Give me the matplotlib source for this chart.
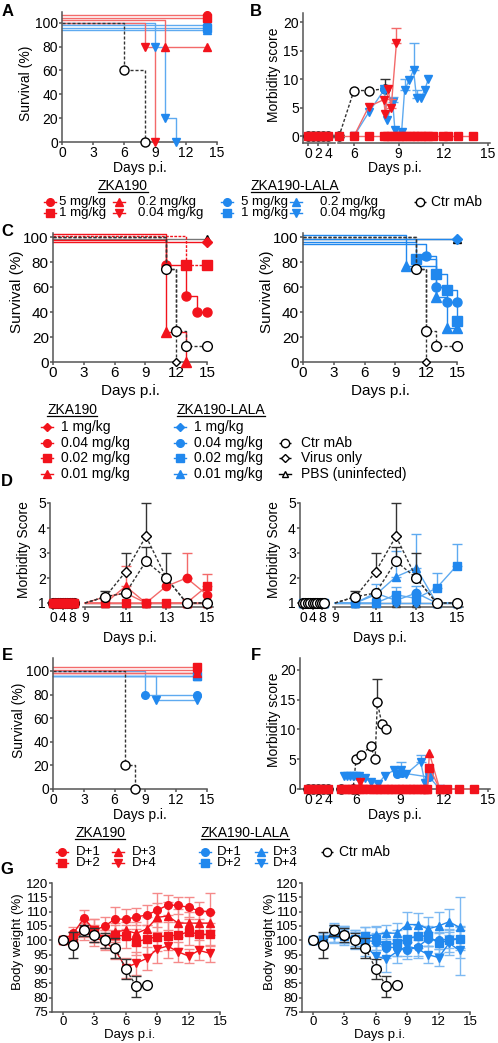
import matplotlib
matplotlib.use('Agg')
import matplotlib.pyplot as plt
import numpy as np

plt.rcParams['font.family'] = ['Liberation Sans', 'DejaVu Sans']

# ---------------- data ----------------
# A: survival (%), ZKA190 (red) and ZKA190-LALA (blue): 5, 1, 0.2, 0.04 mg/kg
a_red_days = [[0, 14], [0, 14], [0, 10, 14], [0, 8, 9]]
a_red_surv = [[100, 100], [100, 100], [100, 80, 80], [100, 80, 0]]
a_blue_days = [[0, 14], [0, 14], [0, 14], [0, 9, 10, 11]]
a_blue_surv = [[100, 100], [100, 100], [100, 100], [100, 80, 20, 0]]
a_ctr_days = [0, 6, 8]
a_ctr_surv = [100, 60, 0]

# B: morbidity score
b_sq_days = [0, 1, 2, 3, 4, 5, 6, 7, 8, 8.25, 8.5, 8.75, 9, 9.25, 9.5, 9.75,
             10, 10.25, 10.5, 10.75, 11, 11.3, 12, 12.3, 13, 14]
b_sq_vals = [0, 0, 0, 0, 0, 0, 0, 0, 0, 0, 0, 0, 0, 0, 0, 0,
             0, 0, 0, 0, 0, 0, 0, 0, 0, 0]
b_ctr_days = [0, 1, 2, 3, 4, 5, 6, 7, 8.1]
b_ctr_vals = [0, 0, 0, 0, 0, 0, 8, 8, 8.3]
b_ctr_err = [0, 0, 0, 0, 0, 0, 0, 0, 1.7]
b_r004_days = [6, 7, 8, 8.1, 8.3, 8.5, 8.85]
b_r004_vals = [0, 5.2, 6.4, 3.9, 8.2, 5.0, 16.3]
b_r004_err = [0, 0, 0, 0, 0, 1.6, 2.7]
b_b004_days = [6, 7, 8.05, 8.2, 8.6, 8.75, 9.2, 9.4, 9.7, 10.0, 10.2, 10.5, 10.75, 11.0]
b_b004_vals = [0, 4.2, 8.2, 2.8, 6.0, 1.0, 0.8, 8.1, 9.8, 11.6, 6.7, 6.7, 8.1, 10.1]
b_b004_err = [0, 0, 0, 0, 0.9, 0, 0, 2.0, 0, 4.7, 1.4, 0, 0, 0]
b_b5_days = [8.05]
b_b5_vals = [8.2]

# C: survival (%), 1, 0.04, 0.02, 0.01 mg/kg
c_red_days = [[0, 15], [0, 11, 13, 14, 15], [0, 13, 15], [0, 11, 13]]
c_red_surv = [[100, 100], [100, 78, 53, 40, 40], [100, 78, 78], [100, 24, 0]]
c_blue_days = [[0, 15], [0, 12, 13, 14, 15], [0, 11, 13, 14, 15], [0, 10, 13, 14, 15]]
c_blue_surv = [[100, 100], [100, 85, 60, 48, 48], [100, 83, 71, 58, 33], [100, 77, 52, 27, 27]]
c_ctr_days = [0, 11, 12, 13, 15]
c_ctr_surv = [100, 75, 25, 12.5, 12.5]
c_virus_days = [0, 11, 12]
c_virus_surv = [100, 75, 0]
c_pbs_days = [0, 15]
c_pbs_surv = [100, 100]

# D: morbidity score, days 0..15
d_days = [0, 1, 2, 3, 4, 5, 6, 7, 8, 9, 10, 11, 12, 13, 14, 15]
d_ctr = [1, 1, 1, 1, 1, 1, 1, 1, 1, 1, 1.25, 1.4, 2.67, 2.0, 1.0, 1.0]
d_ctr_err = [0, 0, 0, 0, 0, 0, 0, 0, 0, 0, 0.25, 0, 0.58, 1.0, 0, 0]
d_virus = [1, 1, 1, 1, 1, 1, 1, 1, 1, 1, 1.25, 2.25, 3.67, 2.0, 1.0, 1.0]
d_virus_err = [0, 0, 0, 0, 0, 0, 0, 0, 0, 0, 0, 0.75, 1.33, 0, 0, 0]
d_pbs = [1, 1, 1, 1, 1, 1, 1, 1, 1, 1, 1, 1, 1, 1, 1, 1]
d_red = [[1, 1, 1, 1, 1, 1, 1, 1, 1, 1, 1, 1, 1, 1, 1, 1],
         [1, 1, 1, 1, 1, 1, 1, 1, 1, 1, 1.25, 1.4, 1.0, 1.67, 2.0, 1.33],
         [1, 1, 1, 1, 1, 1, 1, 1, 1, 1, 1, 1, 1, 1, 1, 1.67],
         [1, 1, 1, 1, 1, 1, 1, 1, 1, 1, 1, 1.67, 1, 1, 1, 1]]
d_red_err = [[0, 0, 0, 0, 0, 0, 0, 0, 0, 0, 0, 0, 0, 0, 0, 0],
             [0, 0, 0, 0, 0, 0, 0, 0, 0, 0, 0, 0, 0, 0, 1.0, 0],
             [0, 0, 0, 0, 0, 0, 0, 0, 0, 0, 0, 0, 0, 0, 0, 0.5],
             [0, 0, 0, 0, 0, 0, 0, 0, 0, 0, 0, 0.83, 0, 0, 0, 0]]
d_blue = [[1, 1, 1, 1, 1, 1, 1, 1, 1, 1, 1, 1, 1, 1, 1, 1],
          [1, 1, 1, 1, 1, 1, 1, 1, 1, 1, 1, 1.4, 1.1, 1.4, 1, 1],
          [1, 1, 1, 1, 1, 1, 1, 1, 1, 1, 1, 1, 1.33, 1.18, 1.6, 2.5],
          [1, 1, 1, 1, 1, 1, 1, 1, 1, 1, 1, 1.33, 2.05, 2.4, 1, 1]]
d_blue_err = [[0, 0, 0, 0, 0, 0, 0, 0, 0, 0, 0, 0, 0, 0, 0, 0],
              [0, 0, 0, 0, 0, 0, 0, 0, 0, 0, 0, 0.35, 0, 0.3, 0, 0],
              [0, 0, 0, 0, 0, 0, 0, 0, 0, 0, 0, 0, 0.3, 0, 0.6, 0.88],
              [0, 0, 0, 0, 0, 0, 0, 0, 0, 0, 0, 0, 1.05, 1.37, 0, 0]]

# E: survival (%), D+1..D+4
e_red_days = [[0, 14], [0, 14], [0, 14], [0, 14]]
e_red_surv = [[100, 100], [100, 100], [100, 100], [100, 100]]
e_blue_days = [[0, 9, 14], [0, 14], [0, 14], [0, 10, 14]]
e_blue_surv = [[100, 80, 80], [100, 100], [100, 100], [100, 75, 75]]
e_ctr_days = [0, 7, 8]
e_ctr_surv = [100, 20, 0]

# F: morbidity score
f_sq_days = [0, 1, 2, 3, 4, 5, 5.25, 5.5, 5.75, 6, 6.25, 6.5, 6.9, 7.15, 7.4, 7.65,
             7.9, 8.15, 8.4, 8.65, 8.9, 9.15, 9.4, 9.65, 9.9, 10.15, 10.4, 10.65,
             10.85, 11.0, 11.7, 12.2, 13.05, 14.05]
f_sq_vals = [0, 0, 0, 0, 0, 0, 0, 0, 0, 0, 0, 0, 0, 0, 0, 0,
             0, 0, 0, 0, 0, 0, 0, 0, 0, 0, 0, 0,
             0, 3.6, 0, 0, 0, 0]
f_r3_days = [10.85, 11.0, 11.7]
f_r3_vals = [0, 6.0, 0]
f_r4_days = [6.0, 6.3, 6.6]
f_r4_vals = [0, 1.2, 0]
f_ctr_days = [0, 1, 2, 3, 4, 5, 5.8, 6.0, 6.35, 7.0, 7.3, 7.45, 7.75, 8.05]
f_ctr_vals = [0, 0, 0, 0, 0, 0, 0, 5.0, 5.7, 7.2, 5.0, 14.6, 11.0, 10.0]
f_ctr_err = [0, 0, 0, 0, 0, 0, 0, 0, 0, 0, 0, 3.8, 0, 0]
f_b4_days = [5.2, 5.4, 5.6, 5.8, 6.0, 6.2, 6.6, 7.0, 7.5, 7.95, 8.6, 9.05, 9.4,
             10.4, 10.7, 11.0, 11.7]
f_b4_vals = [2.2, 2.2, 2.2, 2.2, 2.2, 2.2, 1.8, 1.2, 0.9, 2.2, 3.2, 3.2, 2.5,
             4.6, 1.0, 2.0, 0]
f_b4_err = [0, 0, 0, 0, 0, 0, 0, 0, 0, 0, 0, 1.3, 0, 1.1, 0, 0, 0]
f_b1_days = [8.8, 9.1, 11.0]
f_b1_vals = [2.6, 2.7, 2.0]

# G: body weight (%), days 0..14
g_days = [0, 1, 2, 3, 4, 5, 6, 7, 8, 9, 10, 11, 12, 13, 14]
g_red = [[100, 102.5, 107.7, 103.5, 105, 107.5, 107.3, 108.2, 108.8, 110.5, 112.3, 112.2, 111.5, 110.3, 110],
         [100, 100, 104, 103.5, 100.5, 101.8, 101.5, 99.5, 100.4, 101.3, 101.5, 101.8, 103, 102.1, 102.1],
         [100, 101, 104.5, 102.5, 100.5, 103, 103.5, 102.4, 104, 108, 108.5, 106, 106, 106, 106],
         [100, 101, 103, 101, 99.5, 96.5, 90.5, 92, 93.7, 97, 98, 96, 94.5, 96.5, 95.5]]
g_red_err = [[0, 2, 3, 4, 3, 4, 3.5, 3, 3.5, 6, 3.5, 3, 3.5, 3, 6.5],
             [0, 2, 3, 4, 3, 3.5, 4, 4.5, 5, 5, 5, 4.5, 4.5, 4, 4],
             [0, 2, 3, 3, 3, 3, 3, 4, 4, 5, 5, 5, 4, 4, 4],
             [0, 2, 3, 3, 3, 3, 3.5, 4, 4, 5, 4, 3.5, 2.5, 3.5, 3]]
g_blue = [[100, 99.5, 103.5, 101.5, 100.5, 100, 99.5, 97.5, 97.5, 96.5, 97.7, 100.5, 100, 100.5, 100.5],
          [100, 100, 102.5, 102, 100.5, 101.5, 100.5, 98.5, 99, 100.5, 101.5, 101.5, 99, 100, 100.5],
          [100, 100.5, 102.5, 101.5, 100.5, 101.5, 102, 102.5, 102.5, 105.5, 105.5, 104, 105, 106.5, 104.5],
          [100, 100, 102, 102, 100, 98, 94.5, 93.5, 96, 98, 97, 95, 94, 99, 96.5]]
g_blue_err = [[0, 2, 2.5, 2.5, 2.5, 3, 3, 3, 3, 3, 3, 2.5, 3, 3, 3],
              [0, 2, 3, 3, 3, 3, 4, 4.5, 4.5, 4, 4, 3.5, 3.5, 4, 4],
              [0, 2, 3, 3, 3, 3, 3, 3, 3.5, 4.5, 4, 4, 5, 4.5, 10.5],
              [0, 2, 3, 3, 3, 3.5, 3.5, 4.5, 4, 3.5, 3, 3, 3, 4, 8.5]]
g_ctr_days = [0, 1, 2, 3, 4, 5, 6, 7, 8]
g_ctr = [100, 98.5, 103.5, 101.8, 100, 97.3, 90, 84, 84.3]
g_ctr_err = [0, 4.5, 2, 2.5, 2.5, 3.5, 3.6, 3.7, 0]

# ---------------- styling ----------------
W, H = 498, 1043
RED = '#f2131c'
BLUE = '#2188ee'
LRED = '#f36a6a'
LBLUE = '#5eaaf0'
AX = '#555555'
DASH = (0, (2.2, 1.4))
MK4 = ['o', 's', '^', 'v']
MKD = ['D', 'o', 's', '^']

fig = plt.figure(figsize=(W / 100, H / 100), dpi=100)


def axes_px(x0, y0, x1, y1):
    return fig.add_axes([x0 / W, 1 - y1 / H, (x1 - x0) / W, (y1 - y0) / H])


def style(ax, fs=10):
    for s in ('top', 'right'):
        ax.spines[s].set_visible(False)
    for s in ('left', 'bottom'):
        ax.spines[s].set_color(AX)
        ax.spines[s].set_linewidth(1.1)
    ax.tick_params(direction='out', length=2.5, width=1.1, color=AX, labelsize=fs, pad=0.5)
    ax.patch.set_visible(False)


def survival(ax, days, surv, col, lcol, mk, off=0, mfc=None, ls='-', ms=5.5, z=2):
    y = [v + off if v == 100 else v for v in surv]
    ax.step(days, y, where='post', color=lcol, lw=1, ls=ls, clip_on=False, zorder=z)
    ax.plot(days[1:], y[1:], ls='none', marker=mk, color=col, mfc=mfc or col, mec=col,
            ms=ms, mew=1, clip_on=False, zorder=z + 1)


def surv_axes(box, ylim, fs=10):
    ax = axes_px(*box)
    style(ax, fs)
    ax.set_xlim(0, 15)
    ax.set_ylim(*ylim)
    ax.set_xticks([0, 3, 6, 9, 12, 15])
    ax.set_yticks([0, 20, 40, 60, 80, 100])
    return ax


def pair(lx, rx, top, bot, xlimL, xlimR, ylim, tL, tR, yt, fs=10):
    axL = axes_px(lx[0], top, lx[1], bot)
    axR = axes_px(rx[0], top, rx[1], bot)
    for ax, xl, t in ((axL, xlimL, tL), (axR, xlimR, tR)):
        style(ax, fs)
        ax.set_xlim(*xl)
        ax.set_ylim(*ylim)
        ax.set_xticks(t)
    axL.set_yticks(yt)
    axR.spines['left'].set_visible(False)
    axR.tick_params(axis='y', left=False, labelleft=False)
    return axL, axR


def on_pair(axL, axR, split, days, vals, err=None, share=False, col='k', lcol=None,
            mk='o', mfc=None, ls='-', ms=5.5, z=2, zl=None):
    d = np.asarray(days, float)
    v = np.asarray(vals, float)
    lcol = lcol or col
    for ax, ml, mm, zz in ((axL, d <= split, d <= split, z if zl is None else zl),
                           (axR, (d >= split) if share else (d > split), d > split, z)):
        if ml.any():
            ax.plot(d[ml], v[ml], color=lcol, lw=1, ls=ls, clip_on=False, zorder=zz)
        if mm.any():
            ax.plot(d[mm], v[mm], ls='none', marker=mk, color=col, mec=col,
                    mfc=mfc or col, ms=ms, mew=1, clip_on=False, zorder=zz + 0.5)
        if err is not None:
            e = np.asarray(err, float)
            me = mm & (e > 0)
            if me.any():
                ax.errorbar(d[me], v[me], yerr=[np.zeros(me.sum()), e[me]], fmt='none',
                            ecolor=lcol, elinewidth=1, capsize=3.5, capthick=1,
                            clip_on=False, zorder=zz - 0.5)


# ---------------- A ----------------
axA = surv_axes((62, 12, 217, 142), (0, 109))
a_off_red = [6.5, 4.2, 2, 0]
a_off_blue = [-2, -4.2, -6.5, 0]
for i in range(4):
    survival(axA, a_blue_days[i], a_blue_surv[i], BLUE, LBLUE, MK4[i], a_off_blue[i])
for i in range(4):
    survival(axA, a_red_days[i], a_red_surv[i], RED, LRED, MK4[i], a_off_red[i])
survival(axA, a_ctr_days, a_ctr_surv, 'black', '#333333', 'o', mfc='white', ls=DASH, ms=6.5)

# ---------------- B ----------------
bL, bR = pair((303, 335), (338, 490), 13, 143, (-1, 5.4), (4.93, 15.13), (-1.2, 21.6),
              [0, 2, 4], [6, 9, 12, 15], [0, 5, 10, 15, 20])
on_pair(bL, bR, 4.5, b_ctr_days, b_ctr_vals, b_ctr_err, col='black', lcol='#333333',
        mfc='white', ls=DASH, ms=6.5, z=3)
on_pair(bL, bR, 4.5, b_b004_days, b_b004_vals, b_b004_err, col=BLUE, lcol=LBLUE, mk='v', z=4)
on_pair(bL, bR, 4.5, b_b5_days, b_b5_vals, col=BLUE, mk='o', z=4)
on_pair(bL, bR, 4.5, b_r004_days, b_r004_vals, b_r004_err, col=RED, lcol=LRED, mk='v', z=5)
on_pair(bL, bR, 4.5, b_sq_days, b_sq_vals, col=RED, lcol=LRED, mk='s', z=6)

# ---------------- C ----------------
c_off_red = [-3.5, -2, 1.3, 2.7]
c_off_blue = [-1, -5, -3.5, 2]
for k, (days_l, surv_l, offs, col, lcol, box) in enumerate((
        (c_red_days, c_red_surv, c_off_red, RED, RED, (53, 233, 207, 362)),
        (c_blue_days, c_blue_surv, c_off_blue, BLUE, BLUE, (303, 233, 457, 362)))):
    ax = surv_axes(box, (0, 103.5), fs=11)
    survival(ax, c_pbs_days, c_pbs_surv, 'black', '#777777', '^', -1, mfc='white', ms=6)
    for i in range(4):
        survival(ax, days_l[i], surv_l[i], col, lcol, MKD[i], offs[i],
                 ls=(0, (2, 1)) if (k == 0 and i == 2) else '-', ms=6.5 if i else 5)
    survival(ax, c_virus_days, c_virus_surv, 'black', '#333333', 'D', mfc='white', ls=DASH,
             ms=4, z=4)
    survival(ax, c_ctr_days, c_ctr_surv, 'black', '#333333', 'o', mfc='white', ls=DASH, ms=7,
             z=4)

# ---------------- D ----------------
for k, (vals_l, errs_l, col, lcol, x0) in enumerate((
        (d_red, d_red_err, RED, LRED, 0), (d_blue, d_blue_err, BLUE, LBLUE, 250))):
    dL, dR = pair((x0 + 50, x0 + 77), (x0 + 83, x0 + 213), 503, 607, (-1.26, 10.1),
                  (8.9, 15.3), (0.84, 5), [0, 4, 8], [9, 11, 13, 15], [1, 2, 3, 4, 5])
    # baseline stack in the left segment: red on top in ZKA190, controls on top in LALA
    zc = 3 if k == 0 else 8
    on_pair(dL, dR, 9, d_days, d_pbs, share=True, col='black', lcol='#777777', mk='^',
            mfc='white', z=2, zl=2)
    on_pair(dL, dR, 9, d_days, d_virus, d_virus_err, share=True, col='black',
            lcol='#333333', mk='D', mfc='white', ls=DASH, ms=5, z=6, zl=zc)
    on_pair(dL, dR, 9, d_days, d_ctr, d_ctr_err, share=True, col='black', lcol='#333333',
            mk='o', mfc='white', ls=DASH, ms=7, z=6, zl=zc + 0.2)
    for i in range(4):
        on_pair(dL, dR, 9, d_days, vals_l[i], errs_l[i], share=True, col=col, lcol=lcol,
                mk=MKD[i], ms=4.5 if i == 0 else 6, z=4 + i * 0.1, zl=5 + i * 0.1)

# ---------------- E ----------------
axE = surv_axes((53, 658, 207, 789), (0, 111))
e_off_red = [1, 3.7, -2, -2]
e_off_blue = [0, -4, -4, -4]
for i in range(4):
    survival(axE, e_blue_days[i], e_blue_surv[i], BLUE, LBLUE, MK4[i], e_off_blue[i])
for i in range(4):
    survival(axE, e_red_days[i], e_red_surv[i], RED, LRED, MK4[i], e_off_red[i])
survival(axE, e_ctr_days, e_ctr_surv, 'black', '#333333', 'o', mfc='white', ls=DASH, ms=6.5)

# ---------------- F ----------------
fL, fR = pair((300, 333), (337, 490), 658, 789, (-1.6, 5), (4.7, 15.13), (0, 22),
              [0, 2, 4], [6, 9, 12, 15], [0, 5, 10, 15, 20])
on_pair(fL, fR, 4.5, f_ctr_days, f_ctr_vals, f_ctr_err, col='black', lcol='#333333',
        mfc='white', ls=DASH, ms=6.5, z=3)
on_pair(fL, fR, 4.5, f_b4_days, f_b4_vals, f_b4_err, col=BLUE, lcol=LBLUE, mk='v', z=4)
on_pair(fL, fR, 4.5, f_b1_days, f_b1_vals, col=BLUE, lcol=LBLUE, mk='o', z=4)
on_pair(fL, fR, 4.5, f_r4_days, f_r4_vals, col=RED, lcol=LRED, mk='v', z=5)
on_pair(fL, fR, 4.5, f_r3_days, f_r3_vals, col=RED, lcol=LRED, mk='^', z=5)
on_pair(fL, fR, 4.5, f_sq_days, f_sq_vals, col=RED, lcol=LRED, mk='s', z=6)

# ---------------- G ----------------
for vals_l, errs_l, col, lcol, x0 in ((g_red, g_red_err, RED, '#f58a8a', 0),
                                       (g_blue, g_blue_err, BLUE, '#7db9f2', 250)):
    ax = axes_px(x0 + 52, 883, x0 + 220, 1012)
    style(ax, 9.5)
    ax.set_xlim(-1.05, 15)
    ax.set_ylim(75, 120)
    ax.set_xticks([0, 3, 6, 9, 12, 15])
    ax.set_yticks(range(75, 121, 5))
    for i in range(4):
        ax.errorbar(g_days, vals_l[i], yerr=errs_l[i], color=col, ecolor=lcol, marker=MK4[i],
                    ms=5.5, lw=1, elinewidth=1, capsize=3.5, capthick=1, clip_on=False, zorder=3)
    ax.errorbar(g_ctr_days, g_ctr, yerr=g_ctr_err, color='#333333', ecolor='#333333', marker='o',
                mfc='white', mec='black', ms=7, lw=1, ls=DASH, elinewidth=1, capsize=3.5,
                capthick=1, clip_on=False, zorder=4)

# ---------------- text overlay ----------------
ov = fig.add_axes([0, 0, 1, 1])
ov.set_xlim(0, W)
ov.set_ylim(H, 0)
ov.axis('off')

for lab, x, y in (('A', 8, 12), ('B', 256, 12), ('C', 7, 232), ('D', 7, 482),
                  ('E', 7, 655), ('F', 256, 655), ('G', 7, 869)):
    ov.text(x, y, lab, fontsize=12, fontweight='bold', ha='center', va='center')

for txt, x, y, fs in (('Survival (%)', 26, 83, 10), ('Morbidity score', 274, 75, 10),
                      ('Survival (%)', 17, 292, 11), ('Survival (%)', 267, 292, 11),
                      ('Morbidity Score', 24, 550, 10), ('Morbidity Score', 274, 550, 10),
                      ('Survival (%)', 19, 720, 10), ('Morbidity score', 274, 720, 10),
                      ('Body weight (%)', 18, 942, 9.5), ('Body weight (%)', 270, 942, 9.5)):
    ov.text(x, y, txt, fontsize=fs, rotation=90, ha='center', va='center')

for x, y, fs in ((140, 168, 10), (395, 168, 10), (130, 391, 11), (380, 391, 11),
                 (130, 638, 10), (380, 638, 10), (140, 815, 10), (395, 815, 10),
                 (130, 1035, 9.5), (380, 1035, 9.5)):
    ov.text(x, y, 'Days p.i.', fontsize=fs, ha='center', va='center')

renderer = fig.canvas.get_renderer()


def header(x, y, txt, fs=10):
    t = ov.text(x, y, txt, fontsize=fs, ha='center', va='center')
    bb = t.get_window_extent(renderer=renderer)
    (x0, y0), (x1, _) = ov.transData.inverted().transform([[bb.x0, bb.y0], [bb.x1, bb.y1]])
    ov.plot([x0, x1], [y0 - 1, y0 - 1], color='black', lw=0.9)


def key(xm, xt, y, mk, col, txt, mfc=None, ls='-', ms=5.5, fs=9.5):
    ov.plot([xm - 6, xm + 6], [y, y], color=col, lw=1, ls=ls)
    ov.plot([xm], [y], marker=mk, color=col, mec=col, mfc=mfc or col, ms=ms, mew=1)
    ov.text(xt, y, txt, fontsize=fs, ha='left', va='center')


# legend 1 (A, B)
header(123, 186, 'ZKA190')
header(295, 186, 'ZKA190-LALA')
leg1_labels = ['5 mg/kg', '1 mg/kg', '0.2 mg/kg', '0.04 mg/kg']
leg1_x = [(50, 59), (50, 59), (119, 138), (119, 138)]
leg1_y = [202, 213, 202, 213]
for i in range(4):
    key(leg1_x[i][0], leg1_x[i][1], leg1_y[i], MK4[i], RED, leg1_labels[i])
    key(leg1_x[i][0] + 177, leg1_x[i][1] + 182, leg1_y[i], MK4[i], BLUE, leg1_labels[i])
key(420, 431, 202, 'o', 'black', 'Ctr mAb', mfc='white', ls=DASH, ms=6, fs=10)

# legend 2 (C, D)
header(72, 410, 'ZKA190')
header(221, 410, 'ZKA190-LALA')
leg2_labels = ['1 mg/kg', '0.04 mg/kg', '0.02 mg/kg', '0.01 mg/kg']
leg2_y = [427, 443, 458, 474]
for i in range(4):
    ms = 4 if i == 0 else 5.5
    key(47, 61, leg2_y[i], MKD[i], RED, leg2_labels[i], ms=ms, fs=10)
    key(180, 194, leg2_y[i], MKD[i], BLUE, leg2_labels[i], ms=ms, fs=10)
key(285, 301, 443, 'o', 'black', 'Ctr mAb', mfc='white', ls=DASH, ms=6, fs=10)
key(285, 301, 458, 'D', 'black', 'Virus only', mfc='white', ls=DASH, ms=4, fs=10)
key(285, 301, 474, '^', 'black', 'PBS (uninfected)', mfc='white', ms=5, fs=10)

# legend 3 (E, F, G)
header(100, 833, 'ZKA190')
header(245, 833, 'ZKA190-LALA')
leg3_labels = ['D+1', 'D+2', 'D+3', 'D+4']
leg3_x = [(62, 76), (62, 76), (118, 132), (118, 132)]
leg3_y = [852, 863, 852, 863]
for i in range(4):
    key(leg3_x[i][0], leg3_x[i][1], leg3_y[i], MK4[i], RED, leg3_labels[i])
    key(leg3_x[i][0] + 143, leg3_x[i][1] + 141, leg3_y[i], MK4[i], BLUE, leg3_labels[i])
key(327, 339, 852, 'o', 'black', 'Ctr mAb', mfc='white', ls=DASH, ms=6, fs=10)

fig.savefig('out.png', dpi=100)
